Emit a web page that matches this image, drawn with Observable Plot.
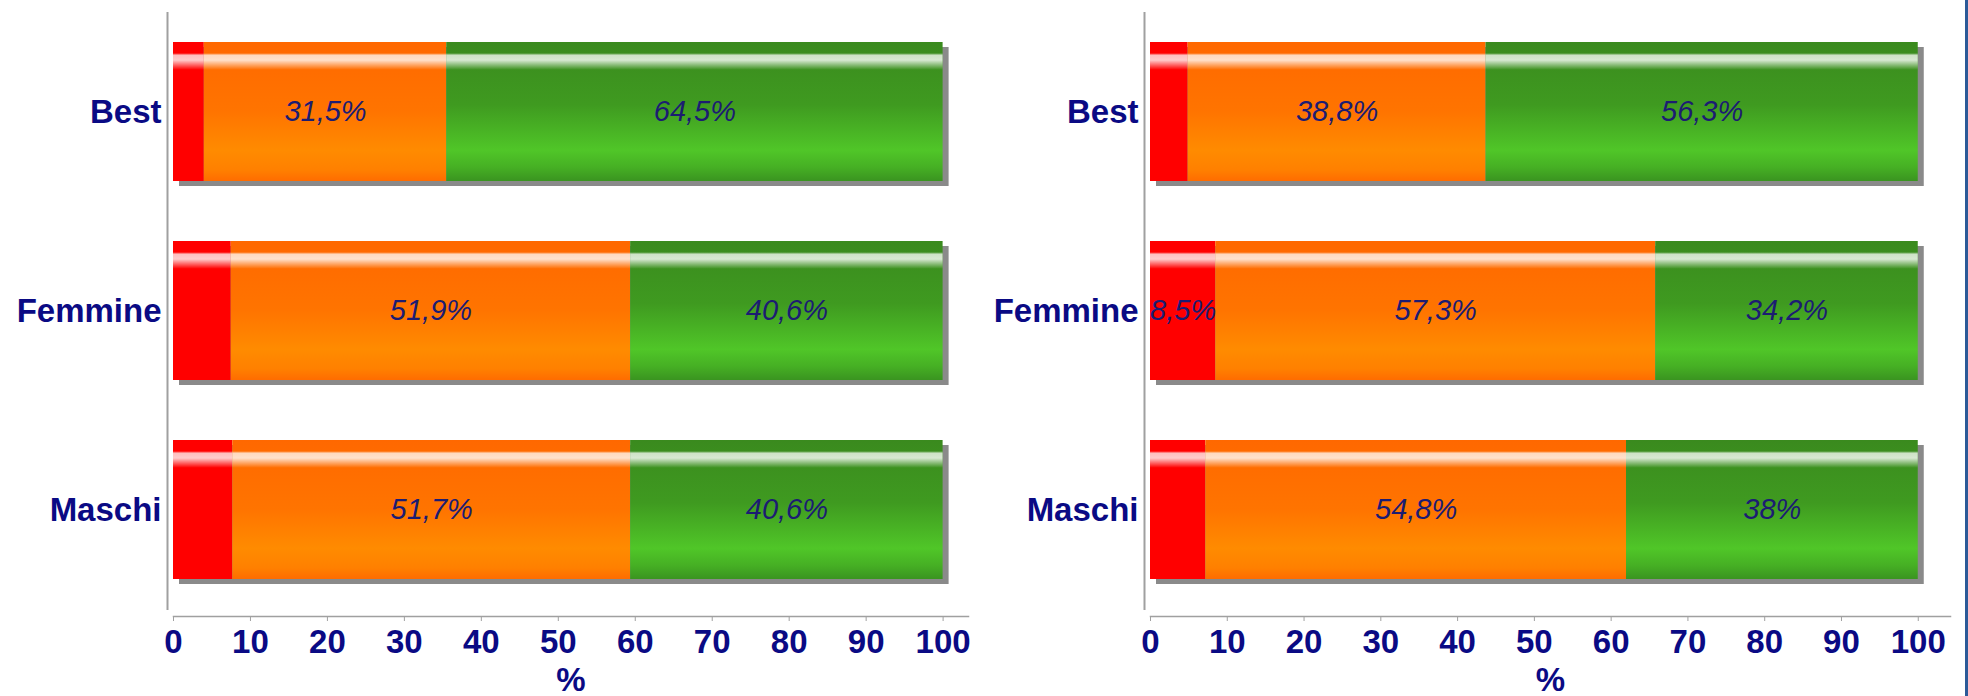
<!DOCTYPE html>
<html>
<head>
<meta charset="utf-8">
<script src="https://cdn.jsdelivr.net/npm/d3@7"></script>
<script src="https://cdn.jsdelivr.net/npm/@observablehq/plot@0.6"></script>
<style>
  body { margin: 0; background: #fff; }
  #chart { position: relative; width: 1968px; height: 696px; overflow: hidden; background: #fff; }
  #chart::after { content: ""; position: absolute; right: 0; top: 0; width: 3px; height: 100%; background: #2c5a98; }
  .panel { position: absolute; top: 0; }
</style>
</head>
<body>
<!-- shared gradients for the glossy bar segments -->
<svg width="0" height="0" style="position:absolute">
  <defs>
    <linearGradient id="g-low" x1="0" y1="0" x2="0" y2="1">
      <stop offset="0" stop-color="#ff0000"/>
      <stop offset="1" stop-color="#ff0000"/>
    </linearGradient>
    <linearGradient id="g-mid" x1="0" y1="0" x2="0" y2="1">
      <stop offset="0" stop-color="#ff6800"/>
      <stop offset="0.5" stop-color="#ff7400"/>
      <stop offset="0.78" stop-color="#ff8b00"/>
      <stop offset="0.92" stop-color="#ff8000"/>
      <stop offset="1" stop-color="#ff6c00"/>
    </linearGradient>
    <linearGradient id="g-high" x1="0" y1="0" x2="0" y2="1">
      <stop offset="0" stop-color="#3a8a1e"/>
      <stop offset="0.45" stop-color="#3f9a20"/>
      <stop offset="0.78" stop-color="#50c628"/>
      <stop offset="0.9" stop-color="#46b024"/>
      <stop offset="1" stop-color="#3a9420"/>
    </linearGradient>
    <linearGradient id="g-gloss" x1="0" y1="0" x2="0" y2="1">
      <stop offset="0" stop-color="#fff" stop-opacity="0"/>
      <stop offset="0.08" stop-color="#fff" stop-opacity="0"/>
      <stop offset="0.095" stop-color="#fff" stop-opacity="0.75"/>
      <stop offset="0.13" stop-color="#fff" stop-opacity="0.8"/>
      <stop offset="0.2" stop-color="#fff" stop-opacity="0"/>
      <stop offset="1" stop-color="#fff" stop-opacity="0"/>
    </linearGradient>
  </defs>
</svg>
<div id="chart"></div>
<script>
// Groups and the three shares (low / mid / high) for each of the two surveys
const categories = ["Best", "Femmine", "Maschi"];

const leftLow  = [4.0, 7.5, 7.7];
const leftMid  = [31.5, 51.9, 51.7];
const leftHigh = [64.5, 40.6, 40.6];

const rightLow  = [4.9, 8.5, 7.2];
const rightMid  = [38.8, 57.3, 54.8];
const rightHigh = [56.3, 34.2, 38];

const xTicks = [0, 10, 20, 30, 40, 50, 60, 70, 80, 90, 100];
const axisTitle = "%";

const navy = "#0a0a84";
const labelInk = "#1c1c72";
const axisGray = "#a0a0a0";
const font = "'Liberation Sans', Arial, sans-serif";

const fmt = v => (Number.isInteger(v) ? String(v) : v.toFixed(1).replace(".", ",")) + "%";

function buildRows(low, mid, high) {
  const rows = [];
  categories.forEach((group, i) => {
    let start = 0;
    [["low", low[i]], ["mid", mid[i]], ["high", high[i]]].forEach(([level, value]) => {
      rows.push({group, level, value, x1: start, x2: start + value});
      start += value;
    });
  });
  return rows;
}

function panel({low, mid, high, left, width, marginLeft, marginRight, xMax}) {
  const rows = buildRows(low, mid, high);
  const levels = ["low", "mid", "high"];
  const plot = Plot.plot({
    width,
    height: 696,
    marginTop: 12,
    marginBottom: 80,
    marginLeft,
    marginRight,
    style: {fontFamily: font, background: "transparent"},
    x: {domain: [0, xMax]},
    y: {domain: categories, paddingInner: 0.3, paddingOuter: 0.15, insetBottom: 6},
    marks: [
      // drop shadow behind each full bar
      Plot.barX(categories, {y: d => d, x1: 0, x2: 100, fill: "#8a8a8a", dx: 6, dy: 5}),
      ...levels.map(level =>
        Plot.barX(rows.filter(r => r.level === level), {
          y: "group", x1: "x1", x2: "x2", fill: `url(#g-${level})`
        })
      ),
      Plot.barX(rows, {y: "group", x1: "x1", x2: "x2", fill: "url(#g-gloss)"}),
      Plot.text(rows.filter(r => r.value >= 8), {
        y: "group",
        x: r => (r.x1 + r.x2) / 2,
        text: r => fmt(r.value),
        fontSize: 29,
        fontStyle: "italic",
        fill: labelInk
      }),
      // value axis line along the bottom of the frame
      Plot.frame({anchor: "bottom", stroke: axisGray, strokeWidth: 1.5}),
      // category axis line, set slightly left of zero
      Plot.ruleX([0], {dx: -6, insetBottom: 6, stroke: axisGray, strokeWidth: 2}),
      Plot.axisX({
        ticks: xTicks,
        tickSize: 5,
        tickPadding: 8,
        stroke: axisGray,
        fill: navy,
        fontSize: 33,
        fontWeight: "bold",
        label: null
      }),
      Plot.axisY({
        tickSize: 0,
        tickPadding: 12,
        fill: navy,
        fontSize: 33,
        fontWeight: "bold",
        label: null
      }),
      Plot.text([axisTitle], {
        frameAnchor: "bottom",
        dy: 74,
        text: d => d,
        fontSize: 33,
        fontWeight: "bold",
        fill: navy
      })
    ]
  });
  plot.classList.add("panel");
  plot.style.left = left + "px";
  document.getElementById("chart").appendChild(plot);
}

panel({low: leftLow, mid: leftMid, high: leftHigh, left: 0, width: 984, marginLeft: 173, marginRight: 16, xMax: 103.3});
panel({low: rightLow, mid: rightMid, high: rightHigh, left: 984, width: 984, marginLeft: 166, marginRight: 18, xMax: 104.2});
</script>
</body>
</html>
